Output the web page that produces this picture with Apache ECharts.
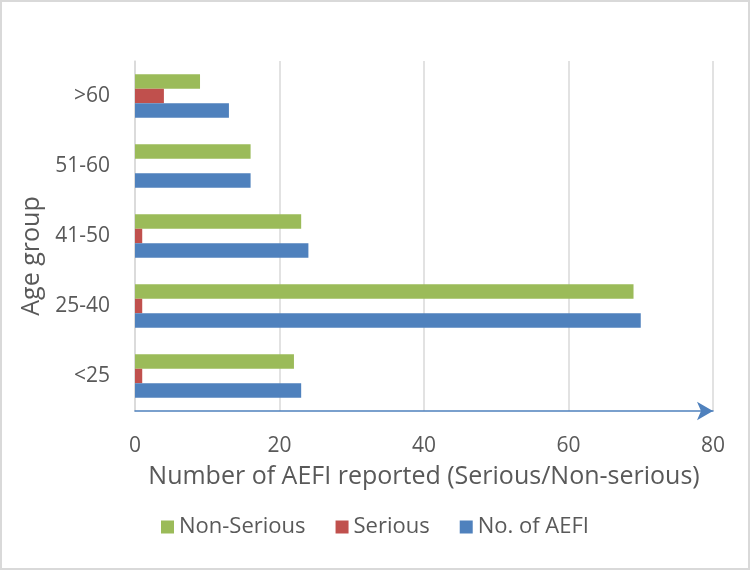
<!DOCTYPE html>
<html><head><meta charset="utf-8">
<script src="https://cdn.jsdelivr.net/npm/echarts@6/dist/echarts.min.js"></script>
<style>html,body{margin:0;padding:0;background:#fff}#c{width:750px;height:570px}</style>
</head><body><div id="c"></div>
<script>
const categories = ['<25', '25-40', '41-50', '51-60', '>60'];
const aefiTotal = [23, 70, 24, 16, 13];
const serious = [1, 1, 1, 0, 4];
const nonSerious = [22, 69, 23, 16, 9];
const xTicks = [0, 20, 40, 60, 80];

const chart = echarts.init(document.getElementById('c'));
const txt = '#595959';
const font = '"Open Sans", sans-serif';
chart.setOption({
  animation: false,
  textStyle: {fontFamily: font},
  graphic: [{type: 'rect', shape: {x: 1, y: 1, width: 748, height: 568}, style: {fill: 'none', stroke: '#d9d9d9', lineWidth: 2}, silent: true}],
  grid: {left: 135, right: 37, top: 61, bottom: 159},
  legend: {
    data: ['Non-Serious', 'Serious', 'No. of AEFI'],
    top: 511, left: 'center', icon: 'rect', itemWidth: 13, itemHeight: 13, itemGap: 30,
    textStyle: {color: txt, fontSize: 22, fontFamily: font}
  },
  xAxis: {
    type: 'value', min: xTicks[0], max: xTicks[xTicks.length - 1], interval: 20,
    name: 'Number of AEFI reported (Serious/Non-serious)', nameLocation: 'middle', nameGap: 53,
    nameTextStyle: {color: txt, fontSize: 25, fontFamily: font},
    axisLine: {show: true, symbol: ['none', 'arrow'], symbolSize: [14, 16], lineStyle: {color: '#4F81BD', width: 1.5}},
    axisTick: {show: false},
    axisLabel: {color: txt, fontSize: 21, margin: 25, fontFamily: font},
    splitLine: {show: true, lineStyle: {color: '#d9d9d9', width: 1.5}}
  },
  yAxis: {
    type: 'category', data: categories,
    name: 'Age group', nameLocation: 'middle', nameGap: 90,
    nameTextStyle: {color: txt, fontSize: 25, fontFamily: font, padding: [0, 40, 0, 0]},
    axisLine: {show: true, lineStyle: {color: '#d9d9d9', width: 1.5}},
    axisTick: {show: false},
    axisLabel: {color: txt, fontSize: 21, margin: 25, fontFamily: font}
  },
  series: [
    {name: 'Non-Serious', type: 'bar', data: nonSerious, itemStyle: {color: '#9BBB59'}, barGap: '0%', barCategoryGap: '38%'},
    {name: 'Serious', type: 'bar', data: serious, itemStyle: {color: '#C0504D'}, barGap: '0%', barCategoryGap: '38%'},
    {name: 'No. of AEFI', type: 'bar', data: aefiTotal, itemStyle: {color: '#4F81BD'}, barGap: '0%', barCategoryGap: '38%'}
  ]
});
</script></body></html>
